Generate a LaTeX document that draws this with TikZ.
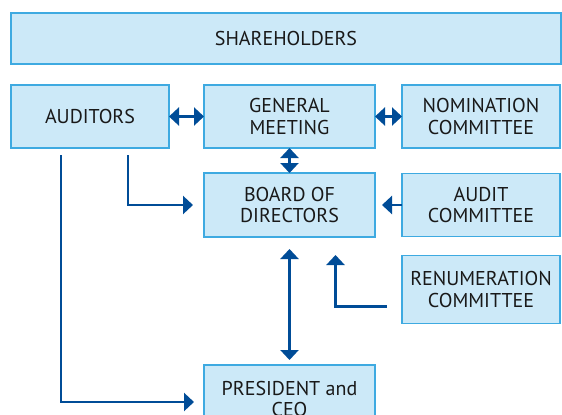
\documentclass[tikz,border=0pt]{standalone}
\usepackage{fontspec}
\setmainfont{PT Sans}
\usetikzlibrary{positioning, arrows.meta, calc}
\definecolor{boxfill}{RGB}{204,233,248}
\definecolor{boxline}{RGB}{62,170,225}
\definecolor{arrblue}{RGB}{0,76,151}

\begin{document}
\begin{tikzpicture}[x=0.5pt, y=-0.5pt,
  box/.style={draw=boxline, fill=boxfill, line width=0.6pt, inner sep=0pt, outer sep=0pt,
    align=center, font=\fontsize{10}{10.8}\selectfont, text=black!90},
  wbox/.style={box, minimum width=79pt, minimum height=31.5pt},
  mbox/.style={box, minimum width=85.5pt, minimum height=31.5pt},
  arr/.style={-{Triangle[length=5pt,width=9pt]}, draw=arrblue, line width=1.2pt},
  darr/.style={arr, {Triangle[length=5pt,width=9pt]}-{Triangle[length=5pt,width=9pt]}}]
\useasboundingbox (0,0) rectangle (562,414);
% boxes
\node[box, minimum width=275pt, minimum height=25.5pt] (sh) at (286,38.5) {SHAREHOLDERS};
\node[wbox] (aud) at (90,116.5) {AUDITORS};
\node[mbox, right=17.5pt of aud] (gm) {GENERAL\\MEETING};
\node[wbox, right=13.5pt of gm] (nom) {NOMINATION\\COMMITTEE};
\node[mbox, below=12.5pt of gm, minimum height=32pt] (bod) {BOARD OF\\DIRECTORS};
\node[wbox, right=13.5pt of bod] (ac) {AUDIT\\COMMITTEE};
\node[wbox, below=9.5pt of ac, minimum height=34pt] (rc) {RENUMERATION\\COMMITTEE};
\node[mbox, below=64pt of bod, minimum height=34pt] (ceo) {PRESIDENT and\\CEO};
% connectors
\draw[darr] (aud) -- (gm);
\draw[darr] (gm) -- (nom);
\draw[darr] (gm) -- (bod);
\draw[darr] ([yshift=-6pt]bod.south) -- ([yshift=2.5pt]ceo.north);
\draw[arr] ([xshift=19pt, yshift=-3.5pt]aud.south) |- ([xshift=-5.5pt]bod.west);
\draw[arr] ([xshift=-14.5pt, yshift=-3.5pt]aud.south) |- ([xshift=-5pt, yshift=-1.5pt]ceo.west);
\draw[arr] (ac.west) -- ($(bod.east |- ac.west)+(3.5pt,0)$);
\draw[arr] ([xshift=-7.5pt, yshift=-8.5pt]rc.west) -| ([xshift=23pt, yshift=-9pt]bod.south);
\end{tikzpicture}
\end{document}
